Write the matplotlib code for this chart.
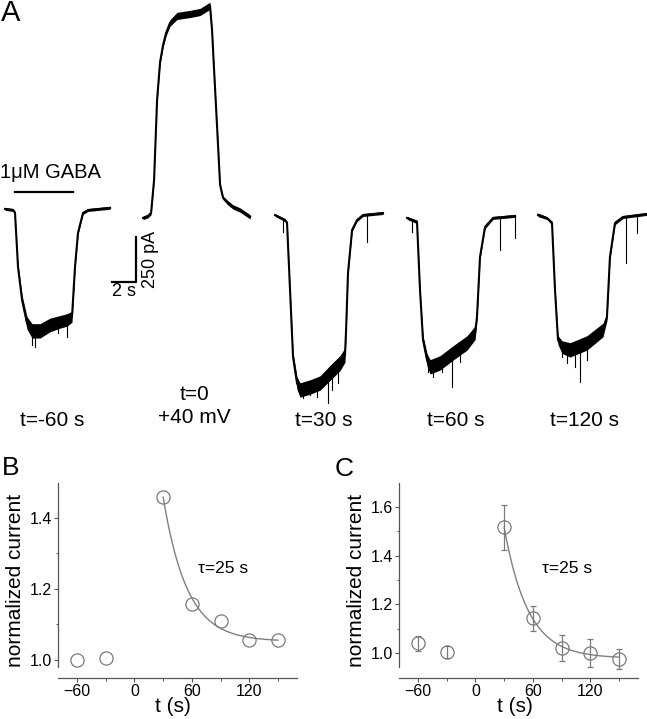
import numpy as np
import matplotlib.pyplot as plt
from matplotlib.ticker import MultipleLocator

plt.rcParams['font.family'] = ['Liberation Sans', 'DejaVu Sans']

W, H = 647, 719

# ---- panel A: current traces (time from trace start in s, current in pA, noise half-width in pA)
tr1_time = [0, 0.67, 0.83, 1.08, 1.42, 1.83, 2.25, 2.92, 3.75, 4.58, 5.17, 5.58, 5.83, 6.08, 6.5, 6.92, 8.75]
tr1_curr = [0, -6, -22, -322, -506, -634, -678, -678, -645, -628, -617, -600, -322, -133, -22, -6, 6]
tr1_noise = [8, 8, 10, 15, 25, 35, 40, 40, 38, 35, 35, 30, 15, 10, 8, 8, 8]
tr1_spikes = [(2.25, -756), (2.5, -767), (4.42, -689), (5.17, -712)]

tr2_time = [0, 0.42, 0.67, 0.92, 1.17, 1.42, 1.67, 1.92, 2.25, 2.83, 3.92, 4.75, 5.42, 5.58,
            5.75, 5.92, 6.17, 6.42, 6.67, 7.08, 7.5, 8.08, 8.92]
tr2_curr = [0, 11, 28, 211, 656, 867, 962, 1028, 1084, 1123, 1134, 1145, 1173, 1179,
            1045, 823, 506, 184, 111, 83, 61, 44, 6]
tr2_noise = [10, 10, 10, 10, 10, 12, 14, 16, 18, 20, 20, 20, 20, 20,
             12, 10, 10, 10, 10, 12, 12, 12, 12]
tr2_spikes = []

tr3_time = [0, 0.83, 1.0, 1.25, 1.5, 1.83, 2.08, 2.92, 3.75, 4.58, 5.42, 5.83, 5.92, 6.08, 6.42, 6.83, 7.33, 9.0]
tr3_curr = [11, -17, -33, -406, -778, -923, -962, -945, -923, -867, -812, -767, -628, -311, -72, -17, 11, 22]
tr3_noise = [8, 8, 10, 15, 25, 35, 40, 40, 40, 42, 42, 40, 20, 12, 10, 8, 8, 8]
tr3_spikes = [(0.67, -83), (2.33, -1006), (2.92, -990), (3.5, -1000), (3.58, -962),
              (4.42, -1034), (4.75, -962), (5.25, -923), (7.67, -139)]

tr4_time = [0, 0.83, 1.08, 1.33, 1.67, 1.92, 2.75, 3.83, 5.0, 5.67, 5.83, 6.08, 6.5, 7.17, 9.0]
tr4_curr = [0, -22, -400, -678, -790, -828, -806, -751, -695, -639, -550, -217, -50, 0, 11]
tr4_noise = [8, 10, 15, 25, 35, 40, 40, 40, 40, 38, 20, 12, 10, 8, 8]
tr4_spikes = [(0.42, -78), (1.75, -856), (2.17, -884), (2.92, -856), (3.75, -940),
              (4.42, -800), (7.75, -178), (9.0, -111)]

tr5_time = [0, 0.75, 1.17, 1.42, 1.67, 2.0, 2.67, 4.08, 5.42, 5.75, 6.0, 6.42, 7.08, 9.08]
tr5_curr = [12, -6, -33, -406, -684, -723, -739, -700, -628, -556, -222, -33, 0, 17]
tr5_noise = [10, 8, 10, 15, 25, 35, 40, 40, 38, 20, 12, 10, 8, 8]
tr5_spikes = [(2.0, -778), (2.42, -812), (3.08, -834), (3.5, -917), (4.08, -795),
              (7.33, -256), (8.25, -89)]

trace_labels = ["t=-60 s", "t=0", "t=30 s", "t=60 s", "t=120 s"]

# ---- panels B and C: normalized current vs time
t_points = [-60, -30, 30, 60, 90, 120, 150]
b_current = [1.0, 1.004, 1.458, 1.158, 1.108, 1.055, 1.055]
c_current = [1.041, 1.004, 1.515, 1.143, 1.02, 1.002, 0.977]
c_err = [0.03, 0.025, 0.092, 0.05, 0.053, 0.057, 0.042]

tau = 25
b_fit_base, b_fit_amp = 1.052, 0.405
c_fit_base, c_fit_amp = 0.98, 0.535

fig = plt.figure(figsize=(W / 100, H / 100), dpi=100)


def ftext(x, y, s, **kw):
    fig.text(x / W, 1 - y / H, s, **kw)


# panel A axes: 12 px per second, 5.56 pA per px
axA = fig.add_axes([0, 1 - 440 / H, 1, 440 / H])
axA.set_xlim(0, W / 12)
axA.set_ylim(-230 * 5.56, 210 * 5.56)
axA.axis('off')

traces = [
    (tr1_time, tr1_curr, tr1_noise, tr1_spikes, 0.42, 6),
    (tr2_time, tr2_curr, tr2_noise, tr2_spikes, 11.92, -44),
    (tr3_time, tr3_curr, tr3_noise, tr3_spikes, 22.92, -39),
    (tr4_time, tr4_curr, tr4_noise, tr4_spikes, 33.92, -44),
    (tr5_time, tr5_curr, tr5_noise, tr5_spikes, 44.83, -39),
]
for tm, cu, nz, sp, x0, y0 in traces:
    tm = np.array(tm) + x0
    cu = np.array(cu) + y0
    nz = np.array(nz)
    axA.fill_between(tm, cu - nz, cu + nz, color='black', lw=0)
    axA.plot(tm, cu, color='black', lw=1.5)
    for st, sd in sp:
        top = np.interp(st + x0, tm, cu)
        axA.plot([st + x0, st + x0], [top, sd + y0], color='black', lw=0.8)

# GABA application bar
axA.plot([1.25, 6.08], [100, 100], color='black', lw=1.6)
axA.text(4.17, 211, "1\u03bcM GABA", fontsize=14.5, ha='center', va='center')

# scale bar 2 s / 250 pA
sb_x, sb_y = 11.33, -400
axA.plot([sb_x - 2, sb_x, sb_x], [sb_y, sb_y, sb_y + 250], color='black', lw=1.6)
axA.text(sb_x - 1.0, sb_y - 52, "2 s", fontsize=13, ha='center', va='center')
axA.text(sb_x + 1.25, sb_y + 125, "250 pA", fontsize=13, ha='center', va='center', rotation=90)

label_x = [52.5, 194, 323.5, 456, 584]
for lx, lab in zip(label_x, trace_labels):
    ly = 395 if lab == "t=0" else 421
    ftext(lx, ly, lab, fontsize=15, ha='center', va='center')
ftext(194, 417, "+40 mV", fontsize=15, ha='center', va='center')

ftext(11, 13, "A", fontsize=21, ha='center', va='center')
ftext(11, 468, "B", fontsize=19, ha='center', va='center')
ftext(344, 469, "C", fontsize=19, ha='center', va='center')


def style_axis(ax, ylim):
    ax.set_xlim(-80, 170)
    ax.set_ylim(*ylim)
    for s in ['top', 'right']:
        ax.spines[s].set_visible(False)
    for s in ['left', 'bottom']:
        ax.spines[s].set_color('#555555')
        ax.spines[s].set_linewidth(0.9)
    ax.spines['bottom'].set_position(('outward', 8))
    ax.set_xticks([-60, 0, 60, 120])
    ax.xaxis.set_minor_locator(MultipleLocator(30))
    ax.yaxis.set_major_locator(MultipleLocator(0.2))
    ax.yaxis.set_minor_locator(MultipleLocator(0.1))
    ax.tick_params(which='major', length=3, width=0.8, color='#555555', labelsize=11.5, pad=1.5)
    ax.tick_params(which='minor', length=1.8, width=0.7, color='#555555')
    ax.yaxis.set_major_formatter(plt.FuncFormatter(lambda v, p: f"{v:.1f}"))


fit_t = np.linspace(30, 150, 200)

axB = fig.add_axes([58 / W, 1 - 667 / H, 239 / W, 184 / H])
style_axis(axB, (0.98, 1.497))
axB.plot(fit_t, b_fit_base + b_fit_amp * np.exp(-(fit_t - 30) / tau), color='#808080', lw=1.0)
axB.plot(t_points, b_current, 'o', ms=9.5, mfc='none', mec='#7a7a7a', mew=0.9, clip_on=False)
axB.text(66.4, 1.258, "\u03c4=25 s", fontsize=12.5, ha='left', va='center')

axC = fig.add_axes([399 / W, 1 - 667 / H, 239 / W, 184 / H])
style_axis(axC, (0.944, 1.697))
axC.plot(fit_t, c_fit_base + c_fit_amp * np.exp(-(fit_t - 30) / tau), color='#808080', lw=1.0)
axC.errorbar(t_points, c_current, yerr=c_err, fmt='o', ms=9.5, mfc='none', mec='#7a7a7a', mew=0.9,
             ecolor='#7a7a7a', elinewidth=0.9, capsize=2.5, capthick=0.9, clip_on=False)
axC.text(69.6, 1.349, "\u03c4=25 s", fontsize=12.5, ha='left', va='center')

ftext(16, 580, "normalized current", fontsize=15, ha='center', va='center', rotation=90)
ftext(356, 580, "normalized current", fontsize=15, ha='center', va='center', rotation=90)
ftext(173, 707, "t (s)", fontsize=15, ha='center', va='center')
ftext(515, 707, "t (s)", fontsize=15, ha='center', va='center')

fig.savefig("out.png", dpi=100)
